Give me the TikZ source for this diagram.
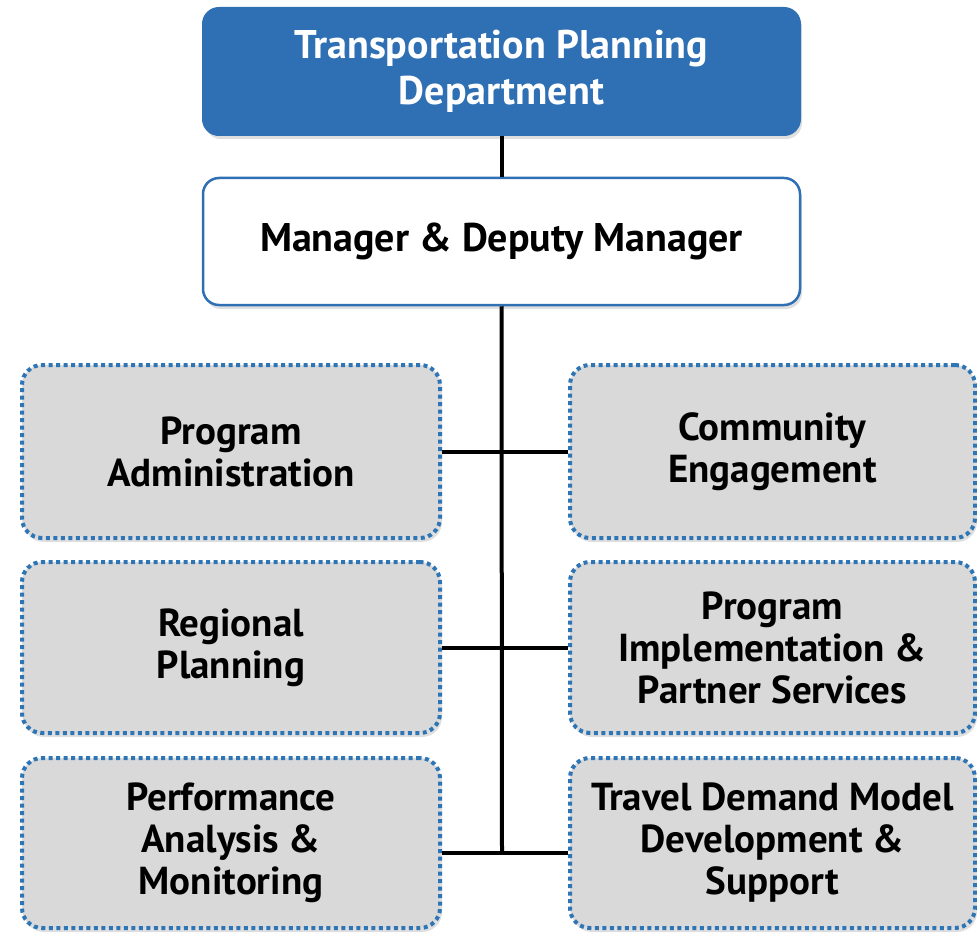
\documentclass[tikz,border=0pt]{standalone}
\usepackage{fontspec}
\setmainfont{PT Sans}
\usetikzlibrary{shadows}

\definecolor{deptblue}{HTML}{2F6FB3}
\definecolor{unitgray}{HTML}{D9D9D9}
\definecolor{dotblue}{HTML}{2E75B6}

\tikzset{
  deptbox/.style={draw=deptblue, fill=deptblue, rounded corners=16pt, line width=2pt,
    minimum width=597pt, minimum height=127pt, text=white, align=center,
    font=\bfseries\fontsize{40}{46}\selectfont,
    drop shadow={shadow xshift=2pt, shadow yshift=-4pt, opacity=.25}},
  mgrbox/.style={draw=deptblue, fill=white, rounded corners=16pt, line width=2.5pt,
    minimum width=597pt, minimum height=127pt, align=center,
    font=\bfseries\fontsize{40}{44}\selectfont,
    drop shadow={shadow xshift=2pt, shadow yshift=-4pt, opacity=.25}},
  unitbox/.style={draw=dotblue, fill=unitgray, rounded corners=20pt, line width=4pt,
    dash pattern=on 4pt off 3.5pt, align=center, inner sep=0pt,
    font=\bfseries\fontsize{39}{42}\selectfont,
    drop shadow={shadow xshift=2pt, shadow yshift=-4pt, opacity=.25}},
  link/.style={line width=4pt, black}
}

\begin{document}
\begin{tikzpicture}[x=1pt, y=-1pt]
    \useasboundingbox (0,0) rectangle (977,936);

    \node[deptbox] (dept) at (501.5,71.5) {Transportation Planning\\Department};
    \node[mgrbox] (mgr) at (501.5,241.5) {Manager \& Deputy Manager};

    \node[unitbox, minimum width=418pt, minimum height=173pt] (padm) at (231,451.5) {Program\\Administration};
    \node[unitbox, minimum width=418pt, minimum height=171pt] (rplan) at (231,647.5) {Regional\\Planning};
    \node[unitbox, minimum width=418pt, minimum height=170pt] (perf) at (231,843) {Performance\\Analysis \&\\Monitoring};

    \node[unitbox, minimum width=405pt, minimum height=173pt] (comm) at (772.5,451.5) {Community\\Engagement};
    \node[unitbox, minimum width=405pt, minimum height=171pt] (impl) at (772.5,647.5) {Program\\Implementation \&\\Partner Services};
    \node[unitbox, minimum width=405pt, minimum height=170pt] (tdm) at (772.5,843) {Travel Demand Model\\Development \&\\Support};

    \coordinate (spine) at (502,853);

    \draw[link] (dept.south) -- (mgr.north);
    \draw[link] (mgr.south) -- (spine);
    \draw[link] (padm.east) -- (comm.west);
    \draw[link] (rplan.east) -- (impl.west);
    \draw[link] (perf.east |- spine) -- (tdm.west |- spine);

\end{tikzpicture}
\end{document}
